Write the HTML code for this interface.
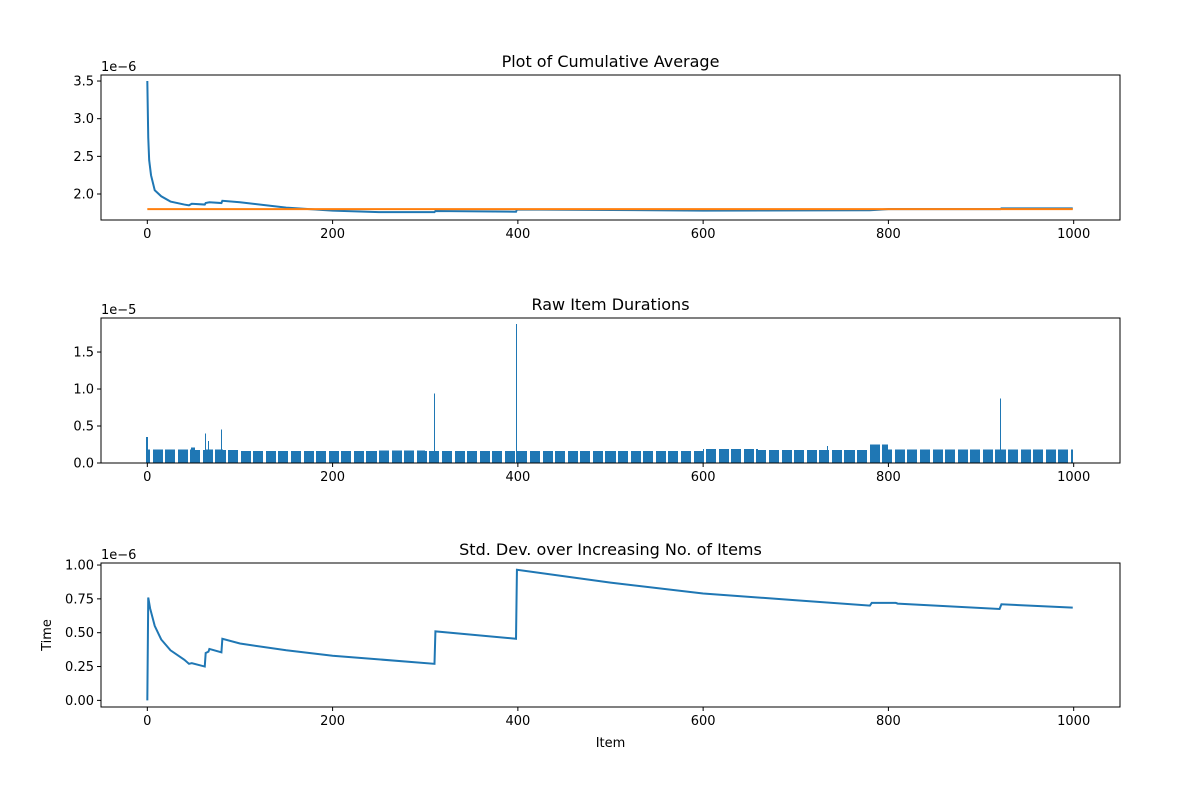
<!DOCTYPE html>
<html><head><meta charset="utf-8"><style>
body{margin:0;background:#fff}
svg text{font-family:"DejaVu Sans","Liberation Sans",sans-serif;fill:#000}
</style></head><body>
<svg id="c" width="1200" height="800" xmlns="http://www.w3.org/2000/svg"></svg>
<script>
// ---- data ----
const avgX=[0,1,2,4,8,15,25,40,45,48,62,63,67,80,81,100,150,200,250,310,311,398,399,600,780,800,921,922,999];
const avgY=[3.5,2.75,2.45,2.25,2.05,1.97,1.9,1.86,1.85,1.87,1.86,1.88,1.89,1.88,1.91,1.89,1.82,1.78,1.76,1.76,1.775,1.765,1.795,1.78,1.785,1.8,1.80,1.81,1.81];
const targetX=[0,999];
const targetY=[1.80,1.80];
const segStart=[0,1,48,52,64,82,100,250,300,400,600,660,780,800,820,999];
const segEnd=[1,48,52,64,82,100,250,300,400,600,660,780,800,820,999,1000];
const segVal=[0.35,0.18,0.21,0.175,0.18,0.175,0.165,0.17,0.165,0.165,0.19,0.175,0.25,0.185,0.18,0.18];
const spikeX=[0,63,67,81,311,399,735,922];
const spikeY=[0.35,0.40,0.30,0.45,0.94,1.88,0.23,0.87];
const sdX=[0,1,3,8,15,25,40,45,48,62,63,66,67,80,81,100,150,200,310,311,398,399,500,600,700,780,782,808,810,920,922,999];
const sdY=[0,0.76,0.68,0.55,0.45,0.37,0.30,0.27,0.275,0.25,0.35,0.36,0.38,0.355,0.455,0.42,0.37,0.33,0.27,0.51,0.455,0.965,0.87,0.79,0.74,0.70,0.72,0.72,0.715,0.675,0.71,0.685];
const xTicks=[0,200,400,600,800,1000];
const y1Ticks=[2.0,2.5,3.0,3.5];
const y2Ticks=[0.0,0.5,1.0,1.5];
const y3Ticks=[0.00,0.25,0.50,0.75,1.00];

const NS="http://www.w3.org/2000/svg";
const svg=document.getElementById('c');
function mk(t,a,p){const e=document.createElementNS(NS,t);for(const k in a)e.setAttribute(k,a[k]);(p||svg).appendChild(e);return e;}
const L=101,R=1120;
const sx=v=>L+(v+50)/1100*(R-L);
function axis(top,bot,y0,y1,ticks,fmt,title,exp,name){
  const g=mk('g',{});
  
  
  const sy=v=>bot-(v-y0)/(y1-y0)*(bot-top);
  const t=mk('text',{x:(L+R)/2,y:top-8,'text-anchor':'middle','font-size':16},g);t.textContent=title;
  
  const e=mk('text',{x:L,y:top-4,'font-size':13},g);e.textContent=exp;
  
  xTicks.forEach(v=>{const x=sx(v);mk('line',{x1:x,x2:x,y1:bot,y2:bot+4,stroke:'#000'},g);
    const tt=mk('text',{x:x,y:bot+18,'text-anchor':'middle','font-size':13},g);tt.textContent=v;
    });
  ticks.forEach(v=>{const y=sy(v);mk('line',{x1:L-4,x2:L,y1:y,y2:y,stroke:'#000'},g);
    const tt=mk('text',{x:L-7,y:y+4.5,'text-anchor':'end','font-size':13},g);tt.textContent=v.toFixed(fmt);
    });
  return {g,sy,top,bot};
}
function line(ax,X,Y,col,name){
  const p=mk('polyline',{points:X.map((x,i)=>sx(x)+','+ax.sy(Y[i])).join(' '),fill:'none',stroke:col,'stroke-width':2},ax.g);
  
}
function frame(ax){mk('rect',{x:L,y:ax.top,width:R-L,height:ax.bot-ax.top,fill:'none',stroke:'#000','stroke-width':1},ax.g);}

const a1=axis(75,220,1.655,3.58,y1Ticks,1,'Plot of Cumulative Average','1e\u22126','cumulative-average-chart');
line(a1,avgX,avgY,'#1f77b4','cumulative-average-line');
line(a1,targetX,targetY,'#ff7f0e','overall-average-line');
frame(a1);

const a2=axis(318,463,0,1.96,y2Ticks,1,'Raw Item Durations','1e\u22125','raw-durations-chart');
const bw=0.8/1100*(R-L);
const vals=new Array(1000).fill(0);
segStart.forEach((s,i)=>{for(let k=s;k<segEnd[i];k++)vals[k]=segVal[i];});
let d='';
vals.forEach((v,i)=>{const x=Math.round(sx(i)-bw/2);const w=Math.max(0,Math.round(sx(i)+bw/2)-x);const y=a2.sy(v);if(w>0)d+=`M${x},${463}V${y}H${x+w}V463Z`;});
spikeX.forEach((xv,i)=>{const x=Math.floor(sx(xv)-0.5);d+=`M${x},463V${a2.sy(spikeY[i])}H${x+1}V463Z`;});
const bars=mk('path',{d:d,fill:'#1f77b4','shape-rendering':'crispEdges'},a2.g);


frame(a2);

const a3=axis(563,707,-0.049,1.015,y3Ticks,2,'Std. Dev. over Increasing No. of Items','1e\u22126','std-dev-chart');
line(a3,sdX,sdY,'#1f77b4','std-dev-line');
frame(a3);
const xl=mk('text',{x:(L+R)/2,y:747,'text-anchor':'middle','font-size':13});xl.textContent='Item';

const yl=mk('text',{x:0,y:0,'text-anchor':'middle','font-size':13,transform:'translate(51,635) rotate(-90)'});yl.textContent='Time';

</script>
</body></html>
